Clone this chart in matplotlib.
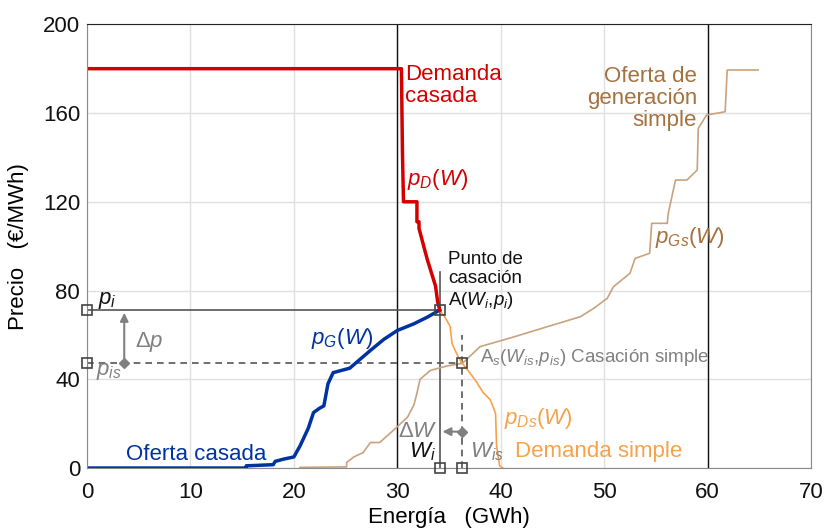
import numpy as np
import matplotlib.pyplot as plt

plt.rcParams['font.family'] = ['Liberation Sans', 'DejaVu Sans']
plt.rcParams['mathtext.fontset'] = 'custom'
plt.rcParams['mathtext.rm'] = 'Liberation Sans'
plt.rcParams['mathtext.it'] = 'Liberation Sans:italic'

# demanda casada (red)
w_dem = [0, 30.4, 30.5, 30.6, 31.9, 31.9, 32.1, 32.1, 32.5, 32.9, 33.3, 33.7, 33.9, 34.1]
p_dem = [180, 180, 142, 120, 120, 111, 111, 108, 101, 94, 88, 82, 75, 71.2]

# oferta casada (blue)
w_of = [0, 15.4, 15.4, 18.0, 18.2, 19.0, 20.0, 20.6, 21.4, 21.9, 22.5, 22.9, 23.3, 23.8,
        25.4, 26.4, 27.4, 28.7, 30.0, 31.6, 32.9, 34.1]
p_of = [0, 0, 1, 1.5, 3, 4, 5, 10, 18, 25, 27, 28, 38, 43, 45, 49, 53, 58, 62, 65, 68, 71.2]

# oferta de generacion simple (brown)
w_ofs = [20.6, 25.1, 25.1, 25.8, 26.7, 27.4, 28.3, 30.0, 31.0, 31.6, 31.9, 32.2, 33.2, 34.8,
         36.3, 38.0, 41.2, 44.5, 47.7, 49.0, 50.3, 50.9, 52.5, 53.0, 54.4, 54.6, 56.1, 56.2,
         56.9, 58.0, 59.0, 59.1, 59.9, 61.7, 61.9, 64.9]
p_ofs = [0.3, 0.5, 2.5, 5, 7, 11.5, 11.5, 18.6, 23, 28.4, 33.7, 40, 44, 46, 47.2, 54.7, 59,
         63.7, 68.2, 72, 76.5, 81.7, 87.8, 94.5, 96.8, 110.3, 110.3, 114.8, 129.8, 129.8,
         134.3, 153.1, 159.1, 160.6, 179.4, 179.4]

# demanda simple (orange)
w_dems = [34.1, 34.6, 35.1, 35.3, 35.9, 36.3, 37.0, 37.7, 38.3, 39.0, 39.5, 39.6, 39.9, 40.2]
p_dems = [71.2, 68, 64, 56, 50, 47.2, 43, 38.5, 34, 30.7, 24.7, 10, 1, 0]

# casacion points
w_i, p_i = 34.1, 71.2
w_is, p_is = 36.3, 47.2

x_ticks = [0, 10, 20, 30, 40, 50, 60, 70]
y_ticks = [0, 40, 80, 120, 160, 200]

red = '#d40000'
blue = '#0033a0'
tan = '#c9a27e'
brown = '#a5713f'
orange = '#f7a24a'
gray = '#808080'
dark = '#555555'

fig = plt.figure(figsize=(8.24, 5.31), dpi=100)
ax = fig.add_axes([0.1056, 0.1186, 0.8786, 0.8356])

ax.set_xlim(0, 70)
ax.set_ylim(0, 200)
ax.set_xticks(x_ticks)
ax.set_yticks(y_ticks)
ax.grid(True, color='#e0e0e0', lw=1)
ax.set_axisbelow(True)
ax.tick_params(length=0, labelsize=16, colors='#111111')
ax.tick_params(axis='x', pad=10)
ax.tick_params(axis='y', pad=5)
for s in ['left', 'bottom', 'right']:
    ax.spines[s].set_color('#8a8a8a')
ax.spines['top'].set_color('#222222')

ax.axvline(30, color='#111111', lw=1)
ax.axvline(60, color='#111111', lw=1)

# guide lines
ax.plot([0, w_i], [p_i, p_i], color=dark, lw=1.2)
ax.plot([w_i, w_i], [0, 88.5], color=dark, lw=1.2)
ax.plot([0, w_is], [p_is, p_is], color=dark, lw=1.2, ls=(0, (4, 3)))
ax.plot([w_is, w_is], [0, 60], color=dark, lw=1.2, ls=(0, (4, 3)))

# curves
ax.plot(w_ofs, p_ofs, color=tan, lw=1.2)
ax.plot(w_dems, p_dems, color=orange, lw=1.2)
ax.plot(w_of, p_of, color=blue, lw=2.5)
ax.plot(w_dem, p_dem, color=red, lw=2.5)

# square markers
sq_x = [0, 0, w_i, w_is, w_i, w_is]
sq_y = [p_i, p_is, p_i, p_is, 0, 0]
ax.plot(sq_x, sq_y, ls='none', marker='s', ms=7.5, mfc='none', mec='#444444', mew=1.2,
        clip_on=False, zorder=5)

# delta arrows
ax.annotate('', xy=(3.6, p_i), xytext=(3.6, p_is),
            arrowprops=dict(arrowstyle='-|>', color=gray, lw=1.5, mutation_scale=12))
ax.plot([3.6], [p_is], marker='D', ms=5, color=gray)
ax.annotate('', xy=(w_i, 16.4), xytext=(w_is, 16.4),
            arrowprops=dict(arrowstyle='-|>', color=gray, lw=1.5, mutation_scale=12))
ax.plot([w_is], [16.4], marker='D', ms=5, color=gray)

# texts
ax.text(30.75, 182, 'Demanda\ncasada', color=red, fontsize=16, ha='left', va='top',
        linespacing=1.05)
ax.text(30.9, 130, '$p_D(W)$', color=red, fontsize=16, ha='left', va='center')
ax.text(34.9, 71, 'Punto de\ncasación\nA($W_i$,$p_i$)', color='#111111', fontsize=13.5,
        ha='left', va='bottom', linespacing=1.15)
ax.text(38.0, 49.6, 'A$_s$($W_{is}$,$p_{is}$) Casación simple', color=gray, fontsize=13.5,
        ha='left', va='center')
ax.text(21.7, 58.5, '$p_G(W)$', color=blue, fontsize=16, ha='left', va='center')
ax.text(54.9, 103.7, '$p_{Gs}(W)$', color=brown, fontsize=16, ha='left', va='center')
ax.text(59.0, 181, 'Oferta de\ngeneración\nsimple', color=brown, fontsize=16, ha='right',
        va='top', linespacing=1.05)
ax.text(40.3, 22.4, '$p_{Ds}(W)$', color=orange, fontsize=16, ha='left', va='center')
ax.text(41.4, 7.3, 'Demanda simple', color=orange, fontsize=16, ha='left', va='center')
ax.text(3.8, 6.3, 'Oferta casada', color=blue, fontsize=16, ha='left', va='center')
ax.text(33.7, 7.3, '$W_i$', color='#111111', fontsize=16, ha='right', va='center')
ax.text(37.0, 7.3, '$W_{is}$', color=gray, fontsize=16, ha='left', va='center')
ax.text(33.9, 16.4, r'$\Delta W$', color=gray, fontsize=16, ha='right', va='center')
ax.text(4.6, 57, r'$\Delta p$', color=gray, fontsize=16, ha='left', va='center')
ax.text(1.1, 75.7, '$p_i$', color='#111111', fontsize=16, ha='left', va='center')
ax.text(0.9, 43.4, '$p_{is}$', color=gray, fontsize=16, ha='left', va='center')

ax.set_xlabel('Energía   (GWh)', fontsize=16, labelpad=3)
ax.set_ylabel('Precio   (€/MWh)', fontsize=16, labelpad=10)

fig.savefig('out.png', dpi=100)
